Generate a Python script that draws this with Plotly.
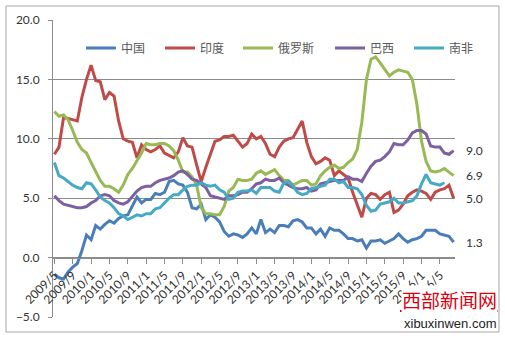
import plotly.graph_objects as go

# Month categories 2009/5 .. 2016/8
months = []
yy, mm = 2009, 5
for _ in range(88):
    months.append(f"{yy}/{mm}")
    mm += 1
    if mm > 12:
        mm = 1
        yy += 1

tick_labels = months[::4]

china = [-1.4, -1.7, -1.8, -1.2, -0.8, -0.5, 0.6, 1.9,
         1.5, 2.7, 2.4, 2.8, 3.1, 2.9, 3.3, 3.5, 3.6, 4.4, 5.1, 4.6,
         4.9, 4.9, 5.4, 5.3, 5.5, 6.4, 6.5, 6.2, 6.1, 5.5, 4.2, 4.1,
         4.5, 3.2, 3.6, 3.4, 3.0, 2.2, 1.8, 2.0, 1.9, 1.7, 2.0, 2.5,
         2.0, 3.2, 2.1, 2.4, 2.1, 2.7, 2.7, 2.6, 3.1, 3.2, 3.0, 2.5,
         2.5, 2.0, 2.4, 1.8, 2.5, 2.3, 2.3, 2.0, 1.6, 1.6, 1.4, 1.5,
         0.8, 1.4, 1.4, 1.5, 1.2, 1.4, 1.6, 2.0, 1.6, 1.3, 1.5, 1.6,
         1.8, 2.3, 2.3, 2.3, 2.0, 1.9, 1.8, 1.3]

india = [8.7, 9.3, 11.8, 11.7, 11.6, 11.5, 13.5, 15.0,
         16.2, 14.9, 14.8, 13.3, 13.9, 13.6, 11.5, 10.0, 9.8, 9.7, 8.4, 9.5,
         9.1, 8.9, 9.1, 9.4, 8.8, 8.6, 8.4, 8.9, 10.1, 9.4, 9.3, 7.8,
         6.4, 7.6, 8.7, 9.8, 9.9, 10.2, 10.2, 10.3, 9.8, 9.3, 9.6, 10.4,
         10.0, 10.2, 9.6, 8.7, 8.5, 9.3, 9.8, 10.0, 10.1, 10.8, 11.5, 9.7,
         8.5, 7.9, 8.1, 8.4, 8.2, 6.9, 7.3, 7.0, 6.7, 5.5, 4.4, 3.4,
         5.0, 5.4, 5.3, 4.9, 5.3, 5.5, 3.8, 4.0, 4.5, 5.2, 5.5, 5.7,
         5.6, 5.4, 4.9, 5.5, 5.7, 5.8, 6.1, 5.0]

russia = [12.3, 11.9, 12.0, 11.6, 10.7, 9.7, 9.1, 8.8,
          8.0, 7.2, 6.5, 6.0, 6.0, 5.8, 5.5, 6.1, 7.0, 7.5, 8.1, 8.8,
          9.6, 9.5, 9.5, 9.6, 9.6, 9.4, 9.0, 8.2, 7.2, 7.2, 6.8, 6.1,
          4.2, 3.7, 3.7, 3.6, 3.6, 4.3, 5.6, 5.9, 6.6, 6.5, 6.5, 6.6,
          7.1, 7.3, 7.0, 7.2, 7.4, 6.9, 6.5, 6.5, 6.1, 6.3, 6.5, 6.5,
          6.1, 6.2, 6.9, 7.3, 7.6, 7.8, 7.5, 7.6, 8.0, 8.3, 9.1, 11.4,
          15.0, 16.7, 16.9, 16.4, 15.8, 15.3, 15.6, 15.8, 15.7, 15.6, 15.0, 12.9,
          9.8, 8.1, 7.3, 7.2, 7.3, 7.5, 7.2, 6.9]

brazil = [5.2, 4.8, 4.5, 4.4, 4.3, 4.2, 4.2, 4.3,
          4.6, 4.8, 5.2, 5.3, 5.2, 4.8, 4.6, 4.5, 4.7, 5.2, 5.6, 5.9,
          6.0, 6.0, 6.3, 6.5, 6.6, 6.7, 6.9, 7.2, 7.3, 7.0, 6.6, 6.5,
          6.2, 5.9, 5.2, 5.1, 5.0, 4.9, 5.2, 5.2, 5.3, 5.5, 5.5, 5.8,
          6.2, 6.3, 6.6, 6.5, 6.5, 6.7, 6.3, 6.1, 5.9, 5.8, 5.8, 5.9,
          5.6, 5.7, 6.2, 6.3, 6.4, 6.5, 6.5, 6.5, 6.8, 6.6, 6.6, 6.4,
          7.1, 7.7, 8.1, 8.2, 8.5, 8.9, 9.6, 9.5, 9.5, 9.9, 10.5, 10.7,
          10.7, 10.4, 9.4, 9.3, 9.3, 8.8, 8.7, 9.0]

south_africa = [8.0, 6.9, 6.7, 6.4, 6.1, 5.9, 5.8, 6.3,
                6.2, 5.7, 5.1, 4.8, 4.6, 4.2, 3.7, 3.5, 3.2, 3.4, 3.6, 3.5,
                3.7, 3.7, 4.1, 4.2, 4.6, 5.0, 5.3, 5.3, 5.7, 6.0, 6.1, 6.1,
                6.3, 6.1, 6.0, 6.1, 5.7, 5.5, 4.9, 5.0, 5.5, 5.6, 5.6, 5.7,
                5.4, 5.9, 5.9, 5.9, 5.6, 5.5, 6.3, 6.4, 6.0, 5.5, 5.3, 5.4,
                5.8, 5.9, 6.0, 6.1, 6.6, 6.6, 6.3, 6.4, 5.9, 5.9, 5.8, 5.3,
                4.4, 3.9, 4.0, 4.5, 4.6, 4.7, 5.0, 4.6, 4.6, 4.7, 4.8, 5.2,
                6.2, 7.0, 6.3, 6.2, 6.1, 6.3, None, None]

series_names = ["中国", "印度", "俄罗斯", "巴西", "南非"]
series_values = [china, india, russia, brazil, south_africa]
series_colors = ["#4A7EBB", "#BE4B48", "#98B954", "#7D60A0", "#46AAC5"]

# end-value labels shown at the right
end_label_series = [brazil, russia, india, china]

# plot area in pixels: left 53, right 455, top 20, bottom 317
L, R, T, B = 53, 455, 20, 317
W, H = 505, 338
def px(x):
    return (x - L) / (R - L)
def py(y):
    return (B - y) / (B - T)

# legend entry left positions (pixels)
legend_x = [81, 160, 238, 330, 409]

tick_font = dict(family="Lato", size=12, color="#333333")
legend_font = dict(family="Noto Sans CJK SC", size=12, color="#595959")

fig = go.Figure()
legend_layouts = {}
for k, (name, vals, color) in enumerate(zip(series_names, series_values, series_colors)):
    lname = "legend" if k == 0 else f"legend{k + 1}"
    fig.add_trace(go.Scatter(x=months, y=vals, mode="lines", name=name,
                             line=dict(color=color, width=3), connectgaps=False,
                             legend=lname))
    legend_layouts[lname] = dict(orientation="h", x=px(legend_x[k]), xanchor="left",
                                 y=py(48), yanchor="middle", font=legend_font,
                                 bgcolor="rgba(0,0,0,0)", itemwidth=30)

for vals in end_label_series:
    fig.add_annotation(x=px(464), xref="paper", y=vals[-1], yref="y",
                       text=f"{vals[-1]:.1f}", showarrow=False,
                       xanchor="left", yanchor="middle", font=tick_font)

# outer border
fig.add_shape(type="rect", xref="paper", yref="paper",
              x0=px(6), x1=px(499), y0=py(332), y1=py(6),
              line=dict(color="#A6A6A6", width=1), layer="below")

# watermark
fig.add_annotation(x=px(449), xref="paper", y=py(299), yref="paper",
                   text="西部新闻网", showarrow=False, bgcolor="white",
                   xanchor="center", yanchor="middle", borderpad=0,
                   font=dict(family="Noto Sans CJK SC", size=19, color="#D7000F"))
fig.add_shape(type="line", xref="paper", yref="paper",
              x0=px(400), x1=px(498), y0=py(311), y1=py(311),
              line=dict(color="#D7000F", width=2))
fig.add_annotation(x=px(450), xref="paper", y=py(323), yref="paper",
                   text="xibuxinwen.com", showarrow=False,
                   xanchor="center", yanchor="middle", borderpad=0,
                   font=dict(family="Liberation Sans", size=13, color="#222222"))

fig.update_layout(
    width=W, height=H,
    margin=dict(l=L, r=W - R, t=T, b=H - B),
    paper_bgcolor="white", plot_bgcolor="white",
    showlegend=True,
    xaxis=dict(type="category", range=[-0.3, 87.3], tickmode="array",
               tickvals=tick_labels, ticktext=tick_labels, tickangle=-45,
               anchor="free", position=0.2, showline=True, linecolor="#8C8C8C",
               ticks="outside", ticklen=5, tickcolor="#8C8C8C", showgrid=False,
               tickfont=tick_font),
    yaxis=dict(range=[-5, 20], dtick=5, tickformat=".1f", showgrid=True,
               gridcolor="#8C8C8C", gridwidth=1, showline=True, linecolor="#8C8C8C",
               ticks="outside", ticklen=4, tickcolor="#8C8C8C", zeroline=False,
               tickfont=tick_font, ticklabelstandoff=6),
    **legend_layouts,
)

fig.write_html("out.html")
